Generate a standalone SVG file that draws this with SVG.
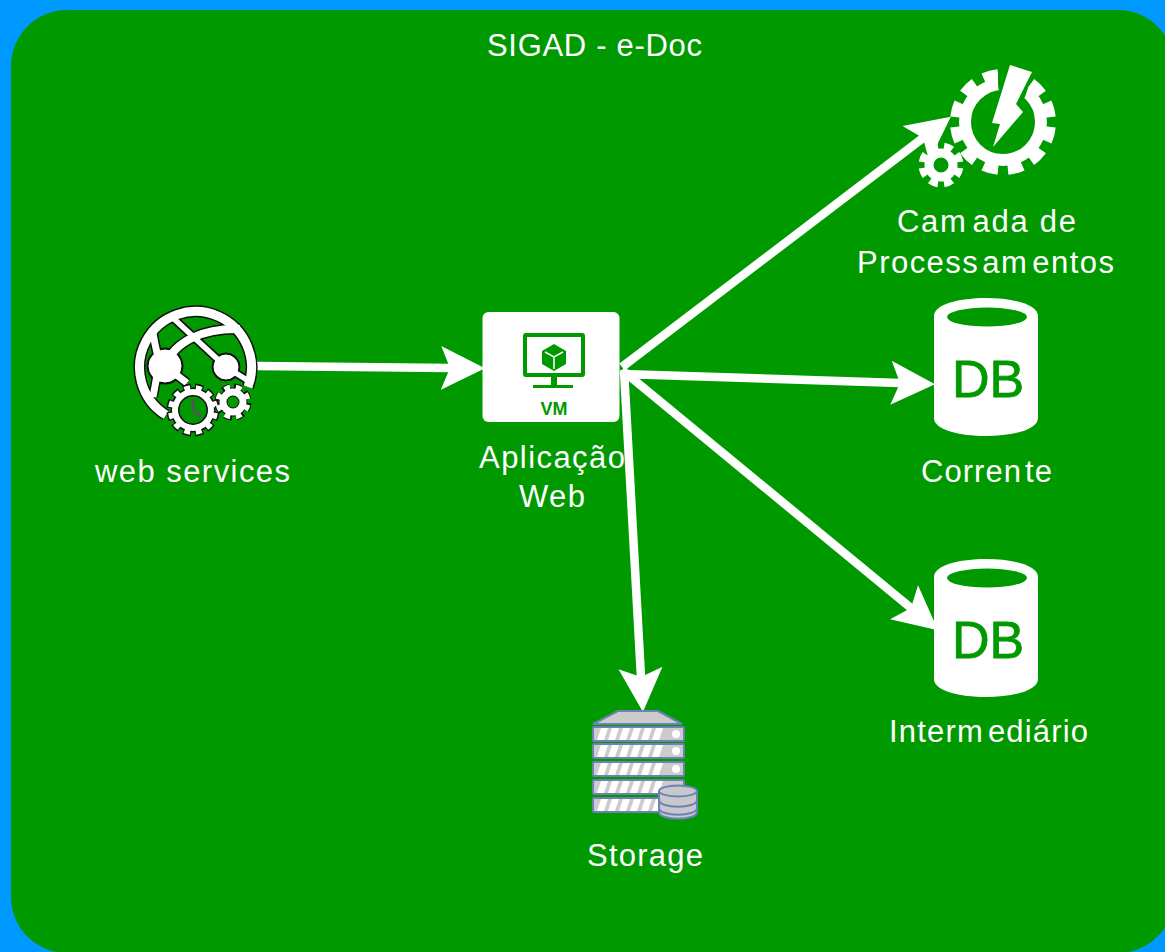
<svg xmlns="http://www.w3.org/2000/svg" width="1165" height="952" viewBox="0 0 1165 952">
<style>
.t{font-family:"Liberation Sans",Arial,sans-serif;font-size:31px;fill:#fff;text-anchor:start}
.c{fill:none;stroke:#fff;stroke-width:8.5}
.k{fill:none;stroke:#111}
.w{fill:none;stroke:#fff}
.g{fill:#090}
.gs{fill:none;stroke:#090}
.cyl{fill:#fff}
.db{font-family:"Liberation Sans",Arial,sans-serif;font-size:52px;fill:#090;stroke:#090;stroke-width:.8;text-anchor:middle}
.slab{fill:#ccc;stroke:#6c82b5;stroke-width:2}
.disk{fill:#c8c8cc;stroke:#6c82b5;stroke-width:2}
</style>
<defs>
<marker id="head" markerUnits="userSpaceOnUse" markerWidth="44" markerHeight="46" refX="9" refY="23" orient="auto">
<path d="M0 1 L44 23 L0 45 L9 23 Z" fill="#fff"/>
</marker>
<g id="cylinder">
<path class="cyl" d="M934 316 C934 292 1038 292 1038 316 V418 C1038 442 934 442 934 418 Z"/>
<ellipse class="g" cx="987" cy="317" rx="40" ry="9.500"/>
</g>
<path id="stripes" fill="#fff" d="M0 12 L4 0 H11 L7 12 Z M11 12 L15 0 H22 L18 12 Z M22 12 L26 0 H33 L29 12 Z M33 12 L37 0 H44 L40 12 Z M44 12 L48 0 H55 L51 12 Z M55 12 L59 0 H66 L62 12 Z"/>
</defs>
<rect width="1165" height="952" fill="#09f"/>
<g id="container">
<rect x="11" y="10" width="1163" height="943" rx="56" ry="56" fill="#090"/>
<text class="t" x="487" y="56" textLength="215">SIGAD - e-Doc</text>
</g>
<g id="connectors">
<line class="c" x1="257" y1="366" x2="450" y2="368" marker-end="url(#head)"/>
<line class="c" x1="622" y1="367" x2="923" y2="138" marker-end="url(#head)"/>
<line class="c" x1="622" y1="374" x2="900" y2="383" marker-end="url(#head)"/>
<line class="c" x1="622" y1="370" x2="911" y2="608" marker-end="url(#head)"/>
<line class="c" x1="624" y1="370" x2="641" y2="677" marker-end="url(#head)"/>
</g>
<g id="web-services">
<g class="k">
<path stroke-width="12" d="M166 415 A56 56 0 1 1 248 387"/>
<path stroke-width="9" d="M173 318 L226 367 L247 380"/>
<path stroke-width="11" d="M165 366 C175 340 205 328 240 329"/>
<path stroke-width="10" d="M153 333 C155 345 157 355 160 362 C157 375 155 385 153 397 M165 366 L187 383"/>
<circle cx="165" cy="366" r="18" fill="#111"/>
<circle cx="226" cy="367" r="14" fill="#111"/>
</g>
<g class="w">
<path stroke-width="9" d="M166 415 A56 56 0 1 1 248 387"/>
<path stroke-width="5.500" d="M173 318 L226 367 L247 380"/>
<path stroke-width="8" d="M165 366 C175 340 205 328 240 329"/>
<path stroke-width="7" d="M153 333 C155 345 157 355 160 362 C157 375 155 385 153 397 M165 366 L187 383"/>
<circle cx="165" cy="366" r="16" fill="#fff"/>
<circle cx="226" cy="367" r="12" fill="#fff"/>
</g>
<circle cx="193" cy="410" r="24" fill="#090"/>
<circle cx="233" cy="402" r="17" fill="#090"/>
<circle class="k" cx="193" cy="410" r="18" stroke-width="9"/>
<circle class="k" cx="193" cy="410" r="23" stroke-width="7" pathLength="360" stroke-dasharray="20 10" stroke-dashoffset="-5"/>
<circle class="w" cx="193" cy="410" r="18" stroke-width="6"/>
<circle class="w" cx="193" cy="410" r="22.500" stroke-width="5" pathLength="360" stroke-dasharray="15 15" stroke-dashoffset="-7.500"/>
<path d="M193 399 V411 L201 417" fill="none" stroke="#555" stroke-width="3"/>
<circle class="k" cx="233" cy="402" r="10" stroke-width="9"/>
<circle class="k" cx="233" cy="402" r="15" stroke-width="7" pathLength="360" stroke-dasharray="28 17" stroke-dashoffset="-4"/>
<circle class="w" cx="233" cy="402" r="10" stroke-width="7"/>
<circle class="w" cx="233" cy="402" r="15" stroke-width="5" pathLength="360" stroke-dasharray="22 23" stroke-dashoffset="-11"/>
<text class="t" x="95" y="482" textLength="195">web services</text>
</g>
<g id="aplicacao-web">
<rect x="482.500" y="312" width="137" height="110" rx="6" fill="#fff"/>
<rect x="525" y="335" width="58" height="40" fill="none" stroke="#090" stroke-width="4" rx="1"/>
<path class="g" d="M551 377 H557 V385 H573 V388 H533 V385 H551 Z"/>
<path class="g" d="M554 344 L566 351 V364 L554 371 L542 364 V351 Z"/>
<path d="M545 352 L554 357 L563 352 M554 357 V369" fill="none" stroke="#fff" stroke-width="1.500"/>
<text x="554" y="415" text-anchor="middle" font-family="'Liberation Sans',Arial,sans-serif" font-size="18" font-weight="bold" fill="#090">VM</text>
<text class="t" x="479" y="468" textLength="146">Aplicação</text>
<text class="t" x="519" y="507" textLength="66">Web</text>
</g>
<g id="camada-processamentos">
<circle class="w" cx="1003" cy="122" r="38" stroke-width="12"/>
<circle class="w" cx="1003" cy="122" r="47.500" stroke-width="11" pathLength="360" stroke-dasharray="18 12" stroke-dashoffset="-6"/>
<path class="g" d="M1003 122 L998 85 V60 H1032 L1029 85 L1025 97 Z"/>
<path fill="#fff" d="M1010 65 L1032 72 L1016 104 L1023 112 L993 147 L1000 124 L992 123 Z"/>
<circle class="w" cx="941" cy="165" r="12" stroke-width="9"/>
<circle class="w" cx="941" cy="165" r="19" stroke-width="7" pathLength="360" stroke-dasharray="26 19" stroke-dashoffset="-9.500"/>
<text class="t" x="897" y="232" textLength="179">Cam<tspan dx="5">ada de</tspan></text>
<text class="t" x="857" y="273" textLength="257">Process<tspan dx="3">am</tspan><tspan dx="4">entos</tspan></text>
</g>
<g id="corrente">
<use href="#cylinder"/>
<text class="db" x="988" y="397">DB</text>
<text class="t" x="921" y="482" textLength="131">Corren<tspan dx="3">te</tspan></text>
</g>
<g id="intermediario">
<use href="#cylinder" y="261"/>
<text class="db" x="988" y="658">DB</text>
<text class="t" x="889" y="742" textLength="199">Interm<tspan dx="4">ediário</tspan></text>
</g>
<g id="storage">
<path class="slab" d="M618 711 H658 L682 724 H593 Z"/>
<rect class="slab" x="593" y="727" width="91" height="14" rx="1"/>
<rect class="slab" x="593" y="744" width="91" height="14" rx="1"/>
<rect class="slab" x="593" y="762" width="91" height="14" rx="1"/>
<rect class="slab" x="593" y="780" width="91" height="14" rx="1"/>
<rect class="slab" x="593" y="798" width="91" height="14" rx="1"/>
<use href="#stripes" x="597" y="728"/>
<use href="#stripes" x="597" y="745"/>
<use href="#stripes" x="597" y="763"/>
<use href="#stripes" x="597" y="781"/>
<use href="#stripes" x="597" y="799"/>
<circle cx="676" cy="734" r="4" fill="#fff"/>
<circle cx="676" cy="751" r="4" fill="#fff"/>
<circle cx="676" cy="769" r="4" fill="#fff"/>
<path class="disk" d="M659 808 V812 C659 821 697 821 697 812 V808 Z"/>
<path class="disk" d="M659 800 V808 C659 817 697 817 697 808 V800 Z"/>
<path class="disk" d="M659 792 V800 C659 809 697 809 697 800 V792 Z"/>
<ellipse class="disk" cx="678" cy="791" rx="19" ry="5.500"/>
<text class="t" x="587" y="866" textLength="116">Storage</text>
</g>
</svg>
